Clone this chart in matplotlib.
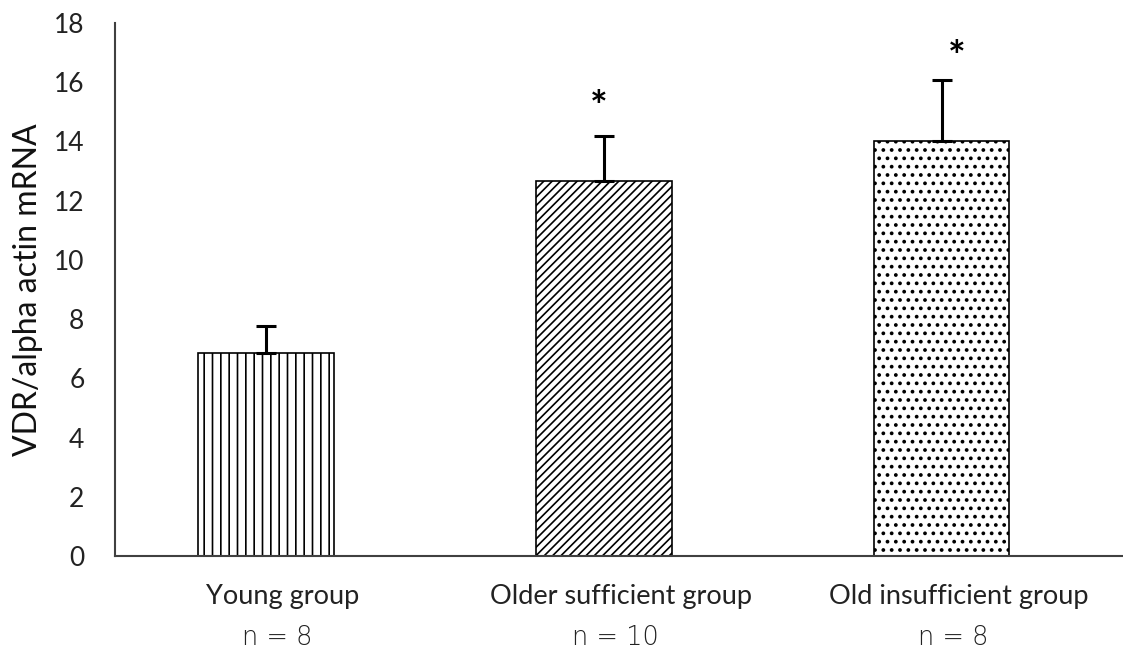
import matplotlib
matplotlib.use("Agg")
import matplotlib.pyplot as plt
import matplotlib.transforms as mtransforms

categories = ["Young group", "Older sufficient group", "Old insufficient group"]
n_labels = ["n = 8", "n = 10", "n = 8"]
means = [6.85, 12.68, 14.0]
errors = [0.92, 1.52, 2.08]
star_heights = [None, 15.1, 16.8]
hatches = ["||", "////", ".."]
hatch_lws = [1.2, 1.2, 1.5]

plt.rcParams['font.family'] = ['Lato', 'DejaVu Sans']
plt.rcParams['hatch.linewidth'] = 1.2

fig = plt.figure(figsize=(11.23, 6.55), dpi=100)
ax = fig.add_axes([0.1024, 0.1511, 0.8976, 0.8138])

x = list(range(len(categories)))
for i in x:
    bars = ax.bar(i, means[i], width=0.40, color="white", edgecolor="black",
                  linewidth=1.2, hatch=hatches[i], zorder=2)
    for b in bars:
        try:
            b.set_hatch_linewidth(hatch_lws[i])
        except AttributeError:
            pass
    ax.errorbar(i, means[i], yerr=[[0], [errors[i]]], fmt="none",
                ecolor="black", elinewidth=2.2, capsize=7.5, capthick=2.2,
                zorder=3)
    if star_heights[i] is not None:
        ax.text(i - 0.015 + 0.06 * (i - 1), star_heights[i], "*", ha="center",
                va="center", fontsize=30, fontweight="bold", color="black")

ax.set_xlim(-0.447, 2.536)
ax.set_ylim(0, 18)
ax.set_yticks(range(0, 19, 2))
ax.tick_params(axis="y", length=0, pad=22, labelsize=19, colors="#222222")
ax.set_xticks([i + 0.05 for i in x])
ax.set_xticklabels(categories, fontsize=19.5, color="#222222")
ax.tick_params(axis="x", length=0, pad=20)

trans = mtransforms.blended_transform_factory(ax.transData, ax.transAxes)
for i in x:
    ax.text(i + 0.033, -0.153, n_labels[i], transform=trans, ha="center",
            va="center", fontsize=18.5, color="#222222",
            family=["DejaVu Sans"], fontweight="light")

ax.set_ylabel("VDR/alpha actin mRNA", fontsize=23, color="#111111", labelpad=8)

for s in ["top", "right"]:
    ax.spines[s].set_visible(False)
for s in ["left", "bottom"]:
    ax.spines[s].set_color("#404040")
    ax.spines[s].set_linewidth(1.5)

fig.savefig("out.png", dpi=100)
